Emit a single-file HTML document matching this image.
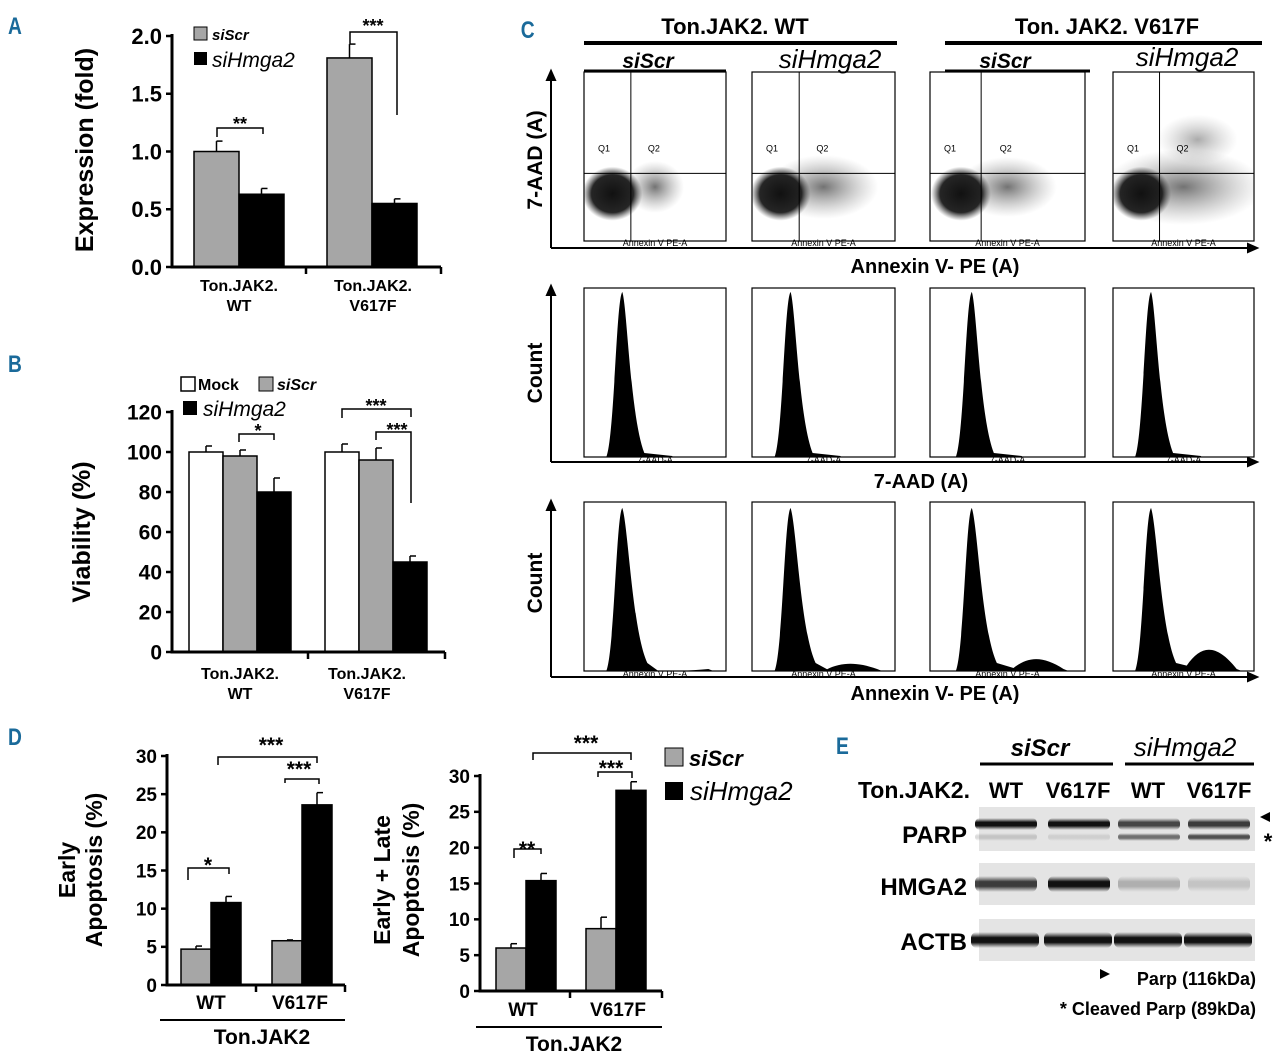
<!DOCTYPE html>
<html><head><meta charset="utf-8">
<style>
html,body{margin:0;padding:0;background:#fff;}
svg{display:block;font-family:"Liberation Sans",Arial,sans-serif;}
.b{font-weight:bold;}
</style></head>
<body>
<svg id="fig" width="1280" height="1057" viewBox="0 0 1280 1057" xmlns="http://www.w3.org/2000/svg">
<defs id="defs">
<radialGradient id="blob" cx="50%" cy="50%" r="50%"><stop offset="0" stop-color="#111"/><stop offset="0.7" stop-color="#1a1a1a" stop-opacity="0.95"/><stop offset="1" stop-color="#444" stop-opacity="0"/></radialGradient>
<radialGradient id="haze" cx="50%" cy="50%" r="50%"><stop offset="0" stop-color="#444" stop-opacity="0.75"/><stop offset="1" stop-color="#888" stop-opacity="0"/></radialGradient>
<linearGradient id="band" x1="0" y1="0" x2="0" y2="1"><stop offset="0" stop-color="#333" stop-opacity="0"/><stop offset="0.35" stop-color="#111"/><stop offset="0.65" stop-color="#111"/><stop offset="1" stop-color="#333" stop-opacity="0"/></linearGradient>
</defs>
<g id="panelA"></g>
<g id="panelB"></g>
<g id="panelD1"></g>
<g id="panelD2"></g>
<g id="panelC"></g>
<g id="panelE"></g>
</svg>
<script>
// ---- Panel A data ----
const aGroups = ["Ton.JAK2.|WT", "Ton.JAK2.|V617F"];
const aScr = [1.0, 1.81];
const aHmga = [0.63, 0.55];
const aScrErr = [0.09, 0.12];
const aHmgaErr = [0.05, 0.04];
const aTicks = ["0.0","0.5","1.0","1.5","2.0"];
// ---- Panel B data ----
const bGroups = ["Ton.JAK2.|WT", "Ton.JAK2.|V617F"];
const bMock = [100, 100];
const bScr = [98, 96];
const bHmga = [80, 45];
const bMockErr = [3, 4];
const bScrErr = [3, 6];
const bHmgaErr = [7, 3];
const bTicks = ["0","20","40","60","80","100","120"];
// ---- Panel D data ----
const dGroups = ["WT","V617F"];
const dEarlyScr = [4.7, 5.8];
const dEarlyHmga = [10.8, 23.6];
const dEarlyHmgaErr = [0.8, 1.6];
const dEarlyScrErr = [0.4, 0.1];
const dTotScr = [6.0, 8.7];
const dTotHmga = [15.4, 28.0];
const dTotScrErr = [0.6, 1.6];
const dTotHmgaErr = [1.0, 1.2];
const dTicks = ["0","5","10","15","20","25","30"];

const NS="http://www.w3.org/2000/svg";
function mk(parent, tag, attrs, text){
  const e=document.createElementNS(NS,tag);
  for(const k in attrs) e.setAttribute(k,attrs[k]);
  if(text!==undefined) e.textContent=text;
  parent.appendChild(e); return e;
}
function scaleY(y0,y1,vmax){return v=>y0-(v/vmax)*(y0-y1);}

function barChart(g, o){
  const y=scaleY(o.y0,o.yTop,o.vmax);
  o.series.forEach((s,si)=>{
    s.vals.forEach((v,gi)=>{
      const x=o.groupX[gi]+si*o.bw;
      const r=mk(g,"rect",{x:x,y:y(v),width:o.bw,height:o.y0-y(v),fill:s.fill,stroke:"#000","stroke-width":1.5});
      
      
      if(s.err){
        const cx=x+o.bw/2;
        mk(g,"line",{x1:cx,x2:cx,y1:y(v),y2:y(v+s.err[gi]),stroke:"#000","stroke-width":1.5});
        mk(g,"line",{x1:cx,x2:cx+6,y1:y(v+s.err[gi]),y2:y(v+s.err[gi]),stroke:"#000","stroke-width":1.5});
      }
    });
  });
  const ax=mk(g,"path",{d:`M${o.ax} ${o.yTop-2} V${o.y0} H${o.axEnd}`,stroke:"#000","stroke-width":3,fill:"none"});
   
  o.ticks.forEach((t,i)=>{
    const v=i*o.vmax/(o.ticks.length-1);
    mk(g,"line",{x1:o.ax-6,x2:o.ax,y1:y(v),y2:y(v),stroke:"#000","stroke-width":2.5});
    const tl=mk(g,"text",{x:o.ax-10,y:y(v)+o.tfs*0.36,"text-anchor":"end","font-size":o.tfs,"font-weight":"bold"},t);
     
  });
  o.sepX.forEach(sx=>mk(g,"line",{x1:sx,x2:sx,y1:o.y0,y2:o.y0+7,stroke:"#000","stroke-width":2.5}));
}

(function(){
  const g=document.getElementById('panelA');
  barChart(g,{y0:267,yTop:36,vmax:2,ax:172,axEnd:441,bw:45,groupX:[194,327],
    series:[{name:'siscr',vals:aScr,err:aScrErr,fill:"#a6a6a6"},{name:'sihmga2',vals:aHmga,err:aHmgaErr,fill:"#000"}],
    ticks:aTicks,tfs:22,sepX:[306,441]});
  aGroups.forEach((l,i)=>{const p=l.split('|');const cx=[239,373][i];
    mk(g,"text",{x:cx,y:291,"text-anchor":"middle","font-size":16,"font-weight":"bold"},p[0]);
    mk(g,"text",{x:cx,y:311,"text-anchor":"middle","font-size":16,"font-weight":"bold"},p[1]);});
})();
(function(){
  const g=document.getElementById('panelB');
  barChart(g,{y0:652,yTop:412,vmax:120,ax:172,axEnd:445,bw:34,groupX:[189,325],
    series:[{name:'mock',vals:bMock,err:bMockErr,fill:"#fff"},{name:'siscr',vals:bScr,err:bScrErr,fill:"#a6a6a6"},{name:'sihmga2',vals:bHmga,err:bHmgaErr,fill:"#000"}],
    ticks:bTicks,tfs:21,sepX:[308,445]});
  bGroups.forEach((l,i)=>{const p=l.split('|');const cx=[240,367][i];
    mk(g,"text",{x:cx,y:679,"text-anchor":"middle","font-size":16,"font-weight":"bold"},p[0]);
    mk(g,"text",{x:cx,y:699,"text-anchor":"middle","font-size":16,"font-weight":"bold"},p[1]);});
})();
(function(){
  const g=document.getElementById('panelD1');
  barChart(g,{y0:985,yTop:756,vmax:30,ax:167,axEnd:345,bw:30,groupX:[181,272],
    series:[{name:'siscr',vals:dEarlyScr,err:dEarlyScrErr,fill:"#a6a6a6"},{name:'sihmga2',vals:dEarlyHmga,err:dEarlyHmgaErr,fill:"#000"}],
    ticks:dTicks,tfs:19,sepX:[256,345]});
  dGroups.forEach((l,i)=>mk(g,"text",{x:[211,300][i],y:1009,"text-anchor":"middle","font-size":19,"font-weight":"bold"},l));
})();
(function(){
  const g=document.getElementById('panelD2');
  barChart(g,{y0:991,yTop:776,vmax:30,ax:480,axEnd:662,bw:30,groupX:[496,586],
    series:[{name:'siscr',vals:dTotScr,err:dTotScrErr,fill:"#a6a6a6"},{name:'sihmga2',vals:dTotHmga,err:dTotHmgaErr,fill:"#000"}],
    ticks:dTicks,tfs:19,sepX:[570,662]});
  dGroups.forEach((l,i)=>mk(g,"text",{x:[523,618][i],y:1016,"text-anchor":"middle","font-size":19,"font-weight":"bold"},l));
})();
</script>

<svg width="1280" height="1057" style="position:absolute;left:0;top:0" xmlns="http://www.w3.org/2000/svg">
<g font-family="Liberation Sans, Arial, sans-serif" font-weight="bold">
<text x="10" y="34" font-size="24" fill="#1a6a9a" transform="scale(0.8,1)">A</text>
<text x="10" y="372" font-size="24" fill="#1a6a9a" transform="scale(0.8,1)">B</text>
<text x="651" y="38" font-size="24" fill="#1a6a9a" transform="scale(0.8,1)">C</text>
<text x="10" y="745" font-size="24" fill="#1a6a9a" transform="scale(0.8,1)">D</text>
<text x="1045" y="754" font-size="24" fill="#1a6a9a" transform="scale(0.8,1)">E</text>

<text transform="translate(93,150) rotate(-90)" text-anchor="middle" font-size="25">Expression (fold)</text>
<rect x="194" y="27" width="13" height="13" fill="#a6a6a6" stroke="#000"/>
<text x="212" y="40" font-size="15" font-style="italic">siScr</text>
<rect x="194" y="52" width="13" height="13" fill="#000"/>
<text x="212" y="67" font-size="21" font-style="italic" font-weight="normal">siHmga2</text>
<path d="M217 137 V128 H263 V134" stroke="#000" stroke-width="1.5" fill="none"/>
<text x="240" y="130" font-size="18" text-anchor="middle">**</text>
<path d="M350 44 V32 H397 V115" stroke="#000" stroke-width="1.5" fill="none"/>
<text x="373" y="32" font-size="18" text-anchor="middle">***</text>

<text transform="translate(90,532) rotate(-90)" text-anchor="middle" font-size="25">Viability (%)</text>
<rect x="181" y="377" width="14" height="14" fill="#fff" stroke="#000" stroke-width="1.5"/>
<text x="198" y="390" font-size="16">Mock</text>
<rect x="259" y="377" width="14" height="14" fill="#a6a6a6" stroke="#000"/>
<text x="277" y="390" font-size="16" font-style="italic">siScr</text>
<rect x="183" y="401" width="14" height="14" fill="#000"/>
<text x="203" y="416" font-size="21" font-style="italic" font-weight="normal">siHmga2</text>
<path d="M239 442 V434 H274 V440" stroke="#000" stroke-width="1.5" fill="none"/>
<text x="258" y="437" font-size="18" text-anchor="middle">*</text>
<path d="M342 418 V409 H411 V417" stroke="#000" stroke-width="1.5" fill="none"/>
<text x="376" y="412" font-size="18" text-anchor="middle">***</text>
<path d="M376 440 V432 H411 V503" stroke="#000" stroke-width="1.5" fill="none"/>
<text x="397" y="436" font-size="18" text-anchor="middle">***</text>

<text transform="translate(75,870) rotate(-90)" text-anchor="middle" font-size="23">Early</text>
<text transform="translate(102,870) rotate(-90)" text-anchor="middle" font-size="23">Apoptosis (%)</text>
<path d="M188 880 V868 H229 V874" stroke="#000" stroke-width="1.5" fill="none"/>
<text x="208" y="872" font-size="21" text-anchor="middle">*</text>
<path d="M285 783 V779 H319 V784" stroke="#000" stroke-width="1.5" fill="none"/>
<text x="299" y="776" font-size="21" text-anchor="middle">***</text>
<path d="M218 765 V757 H317 V763" stroke="#000" stroke-width="1.5" fill="none"/>
<text x="271" y="752" font-size="21" text-anchor="middle">***</text>
<line x1="160" y1="1020" x2="345" y2="1020" stroke="#000" stroke-width="2"/>
<text x="262" y="1044" font-size="21" text-anchor="middle">Ton.JAK2</text>

<text transform="translate(390,880) rotate(-90)" text-anchor="middle" font-size="23">Early + Late</text>
<text transform="translate(419,880) rotate(-90)" text-anchor="middle" font-size="23">Apoptosis (%)</text>
<path d="M514 858 V849 H541 V854" stroke="#000" stroke-width="1.5" fill="none"/>
<text x="527" y="856" font-size="21" text-anchor="middle">**</text>
<path d="M598 777 V772 H632 V778" stroke="#000" stroke-width="1.5" fill="none"/>
<text x="611" y="775" font-size="21" text-anchor="middle">***</text>
<path d="M533 760 V753 H631 V760" stroke="#000" stroke-width="1.5" fill="none"/>
<text x="586" y="750" font-size="21" text-anchor="middle">***</text>
<line x1="476" y1="1027" x2="662" y2="1027" stroke="#000" stroke-width="2"/>
<text x="574" y="1051" font-size="21" text-anchor="middle">Ton.JAK2</text>
<rect x="665" y="748" width="18" height="18" fill="#a6a6a6" stroke="#000"/>
<text x="689" y="766" font-size="22" font-style="italic">siScr</text>
<rect x="665" y="782" width="18" height="18" fill="#000"/>
<text x="690" y="800" font-size="26" font-style="italic" font-weight="normal">siHmga2</text>

<text x="735" y="34" font-size="22" text-anchor="middle">Ton.JAK2. WT</text>
<line x1="584" y1="43" x2="897" y2="43" stroke="#000" stroke-width="4"/>
<text x="1107" y="34" font-size="22" text-anchor="middle">Ton. JAK2. V617F</text>
<line x1="945" y1="43" x2="1262" y2="43" stroke="#000" stroke-width="4"/>
<text x="648" y="68" font-size="21" font-style="italic" text-anchor="middle">siScr</text>
<line x1="584" y1="71" x2="726" y2="71" stroke="#000" stroke-width="3"/>
<text x="830" y="68" font-size="26" font-style="italic" font-weight="normal" text-anchor="middle">siHmga2</text>
<text x="1005" y="68" font-size="21" font-style="italic" text-anchor="middle">siScr</text>
<line x1="945" y1="71" x2="1090" y2="71" stroke="#000" stroke-width="3"/>
<text x="1187" y="66" font-size="26" font-style="italic" font-weight="normal" text-anchor="middle">siHmga2</text>

<g stroke="#000" stroke-width="2" fill="#000">
<line x1="551" y1="78" x2="551" y2="248"/><path d="M547 80 L551 71 L555 80Z"/>
<line x1="551" y1="248" x2="1250" y2="248"/><path d="M1248 244 L1257 248 L1248 252Z"/>
<line x1="551" y1="293" x2="551" y2="462"/><path d="M547 295 L551 286 L555 295Z"/>
<line x1="551" y1="462" x2="1250" y2="462"/><path d="M1248 458 L1257 462 L1248 466Z"/>
<line x1="551" y1="508" x2="551" y2="677"/><path d="M547 510 L551 501 L555 510Z"/>
<line x1="551" y1="677" x2="1250" y2="677"/><path d="M1248 673 L1257 677 L1248 681Z"/>
</g>
<text transform="translate(542,160) rotate(-90)" font-size="21" text-anchor="middle">7-AAD (A)</text>
<text x="935" y="273" font-size="20" text-anchor="middle">Annexin V- PE (A)</text>
<text transform="translate(542,373) rotate(-90)" font-size="21" text-anchor="middle">Count</text>
<text x="921" y="488" font-size="20" text-anchor="middle">7-AAD (A)</text>
<text transform="translate(542,583) rotate(-90)" font-size="21" text-anchor="middle">Count</text>
<text x="935" y="700" font-size="20" text-anchor="middle">Annexin V- PE (A)</text>

<text x="1040" y="756" font-size="24" font-style="italic" text-anchor="middle">siScr</text>
<line x1="980" y1="764" x2="1113" y2="764" stroke="#000" stroke-width="3"/>
<text x="1185" y="756" font-size="26" font-style="italic" font-weight="normal" text-anchor="middle">siHmga2</text>
<line x1="1125" y1="764" x2="1254" y2="764" stroke="#000" stroke-width="3"/>
<text x="970" y="798" font-size="23" text-anchor="end">Ton.JAK2.</text>
<text x="1006" y="798" font-size="22" text-anchor="middle">WT</text>
<text x="1078" y="798" font-size="22" text-anchor="middle">V617F</text>
<text x="1148" y="798" font-size="22" text-anchor="middle">WT</text>
<text x="1219" y="798" font-size="22" text-anchor="middle">V617F</text>
<text x="967" y="843" font-size="24" text-anchor="end">PARP</text>
<text x="967" y="895" font-size="24" text-anchor="end">HMGA2</text>
<text x="967" y="950" font-size="24" text-anchor="end">ACTB</text>
<path d="M1270 812 L1260 817 L1270 822Z" fill="#000"/>
<text x="1268" y="849" font-size="22" text-anchor="middle">*</text>
<text x="1256" y="985" font-size="18" text-anchor="end">Parp (116kDa)</text>
<path d="M1100 969 L1110 974 L1100 979Z" fill="#000"/>
<text x="1256" y="1015" font-size="18" text-anchor="end">* Cleaved Parp (89kDa)</text>
</g>
</svg>

<script>
const C = document.getElementById('panelC');
const defs = document.getElementById('defs');
const boxX = [584, 752, 930, 1113];
const boxW = [142, 143, 155, 141];
const rowY = [72, 288, 502];
const rowH = 169;
const hmgaSpread = [0.4, 1.0, 0.8, 1.6];
const histTail = [0, 0.15, 0.25, 0.45];
function el(p,t,a){const e=document.createElementNS("http://www.w3.org/2000/svg",t);for(const k in a)e.setAttribute(k,a[k]);p.appendChild(e);return e;}
boxX.forEach((x,i)=>{
  const w=boxW[i];
  let y=rowY[0];
  const cp=el(defs,"clipPath",{id:"clip"+i});
  el(cp,"rect",{x:x,y:y,width:w,height:rowH});
  const b=el(C,"rect",{x:x,y:y,width:w,height:rowH,fill:"#fff",stroke:"#000","stroke-width":1.2});
  
  
  const cg=el(C,"g",{"clip-path":"url(#clip"+i+")"});
  el(cg,"ellipse",{cx:x+w*0.5,cy:y+rowH*0.68,rx:w*0.3*hmgaSpread[i]+12,ry:22+10*hmgaSpread[i],fill:"url(#haze)"});
  if(i===3) el(cg,"ellipse",{cx:x+w*0.6,cy:y+rowH*0.4,rx:40,ry:25,fill:"url(#haze)",opacity:0.6});
  el(cg,"ellipse",{cx:x+w*0.2,cy:y+rowH*0.72,rx:30,ry:27,fill:"url(#blob)"});
  el(C,"line",{x1:x+w*0.33,x2:x+w*0.33,y1:y,y2:y+rowH,stroke:"#000","stroke-width":1});
  el(C,"line",{x1:x,x2:x+w,y1:y+rowH*0.6,y2:y+rowH*0.6,stroke:"#000","stroke-width":1});
  el(C,"text",{x:x+14,y:y+rowH*0.47,"font-size":9,"font-family":"Liberation Sans"}).textContent="Q1";
  el(C,"text",{x:x+w*0.45,y:y+rowH*0.47,"font-size":9,"font-family":"Liberation Sans"}).textContent="Q2";
  el(C,"text",{x:x+w*0.5,y:y+rowH+5,"font-size":9,"text-anchor":"middle","font-family":"Liberation Sans"}).textContent="Annexin V PE-A";
  y=rowY[1];
  const h2=el(C,"rect",{x:x,y:y,width:w,height:rowH,fill:"#fff",stroke:"#000","stroke-width":1.2});
  
  
  const px=x+w*0.27, base=y+rowH;
  el(C,"path",{d:`M${px-16} ${base} C${px-8} ${base-20} ${px-6} ${y+10} ${px} ${y+4} C${px+5} ${y+20} ${px+8} ${base-40} ${px+22} ${base-4} L${px+50} ${base-1} L${px+50} ${base}Z`,fill:"#000"});
  el(C,"text",{x:x+w*0.5,y:base+6,"font-size":9,"text-anchor":"middle","font-family":"Liberation Sans"}).textContent="7-AAD-A";
  y=rowY[2];
  const h3=el(C,"rect",{x:x,y:y,width:w,height:rowH,fill:"#fff",stroke:"#000","stroke-width":1.2});
  
  
  const b3=y+rowH, p2=x+w*0.7, th=histTail[i]*60;
  el(C,"path",{d:`M${px-16} ${b3} C${px-8} ${b3-20} ${px-6} ${y+12} ${px} ${y+6} C${px+6} ${y+25} ${px+10} ${b3-40} ${px+25} ${b3-8} L${p2-25} ${b3-th*0.2} C${p2-10} ${b3-th} ${p2+5} ${b3-th} ${p2+25} ${b3-2} L${p2+30} ${b3}Z`,fill:"#000"});
  el(C,"text",{x:x+w*0.5,y:b3+6,"font-size":9,"text-anchor":"middle","font-family":"Liberation Sans"}).textContent="Annexin V PE-A";
});

const E = document.getElementById('panelE');
const laneX = [1005, 1078, 1148, 1218];
const parpFull = [1.0, 1.0, 0.75, 0.8];
const parpCleaved = [0.15, 0.1, 0.55, 0.7];
const hmga2Band = [0.8, 1.0, 0.25, 0.15];
const actbBand = [1, 1, 1, 1];
[[807,44],[863,42],[919,42]].forEach((r,i)=>{
  const bg=el(E,"rect",{x:979,y:r[0],width:276,height:r[1],fill:"#e4e4e4"});
  
  
});
laneX.forEach((lx,i)=>{
  el(E,"rect",{x:lx-30,y:818,width:62,height:12,rx:5,fill:"url(#band)",opacity:parpFull[i]});
  el(E,"rect",{x:lx-30,y:833,width:62,height:8,rx:4,fill:"url(#band)",opacity:parpCleaved[i]});
  el(E,"rect",{x:lx-30,y:876,width:62,height:16,rx:6,fill:"url(#band)",opacity:hmga2Band[i]});
  el(E,"rect",{x:lx-34,y:932,width:68,height:16,rx:6,fill:"url(#band)",opacity:actbBand[i]});
});
</script>
</body></html>
